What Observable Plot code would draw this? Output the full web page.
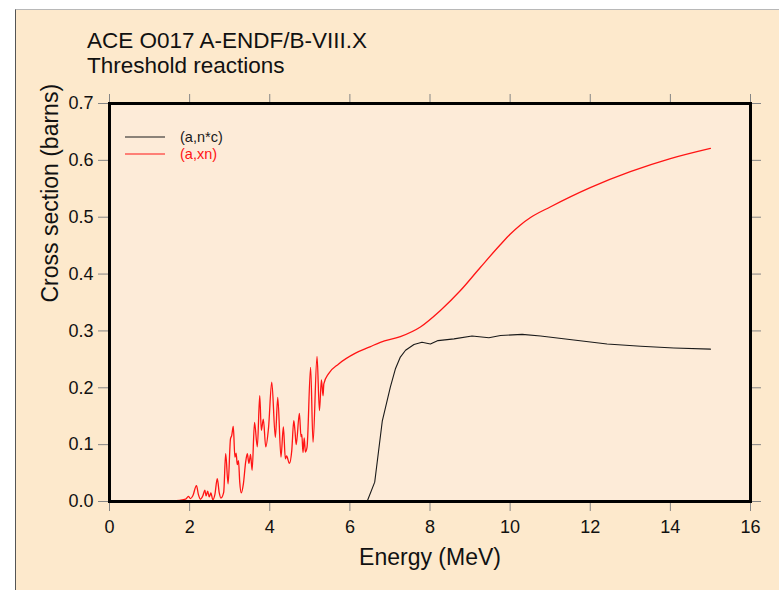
<!DOCTYPE html>
<html>
<head>
<meta charset="utf-8">
<script src="https://cdn.jsdelivr.net/npm/d3@7"></script>
<script src="https://cdn.jsdelivr.net/npm/@observablehq/plot@0.6"></script>
<style>
  body { margin:0; background:#ffffff; width:779px; height:590px; overflow:hidden; position:relative; font-family:"Liberation Sans", Arial, sans-serif; }
  #page { position:absolute; left:15px; top:9px; width:764px; height:581px; background:#fde9cc; border-left:1px solid #555; border-top:1px solid #b8b8b8; }
  #title, #subtitle { position:absolute; left:87px; white-space:nowrap; color:#111; line-height:23px; font-size:22.5px; }
  #title { top:29px; }
  #subtitle { top:54px; }
  #chart { position:absolute; left:0; top:80px; }
  #legend { position:absolute; left:125px; top:128px; font-size:14.5px; }
  .row { display:flex; align-items:center; height:17.5px; }
  .row svg { margin-right:15px; }
</style>
</head>
<body>
<div id="page"></div>
<div id="title">ACE O017 A-ENDF/B-VIII.X</div>
<div id="subtitle">Threshold reactions</div>
<div id="chart"></div>
<div id="legend"></div>
<script>
// ---- data ----
const xTicks = [0, 2, 4, 6, 8, 10, 12, 14, 16];
const yTicks = [0, 0.1, 0.2, 0.3, 0.4, 0.5, 0.6, 0.7];
const seriesNames = ["(a,n*c)", "(a,xn)"];
const seriesColors = ["#1a1a1a", "#ff1414"];

// (a,n*c)
const ncEnergy = [6.43, 6.62, 6.81, 7.01, 7.14, 7.26, 7.39, 7.6, 7.8, 8.01, 8.2, 8.6, 9.05, 9.47, 9.76, 10.3, 10.76, 11.59, 12.42, 13.26, 14.09, 15.0];
const ncSigma  = [0, 0.034, 0.142, 0.201, 0.234, 0.254, 0.266, 0.276, 0.280, 0.277, 0.283, 0.286, 0.291, 0.288, 0.292, 0.294, 0.291, 0.284, 0.277, 0.273, 0.270, 0.268];

// (a,xn)
const xnEnergy = [0.82, 1.2, 1.5, 1.75, 1.9, 1.97, 2.02, 2.08, 2.17, 2.22, 2.27, 2.33, 2.38, 2.41, 2.45, 2.49, 2.53, 2.58, 2.63, 2.69, 2.74, 2.78, 2.85, 2.90, 2.96, 3.02, 3.05, 3.09, 3.13, 3.16, 3.19, 3.22, 3.25, 3.29, 3.34, 3.40, 3.44, 3.48, 3.52, 3.56, 3.62, 3.69, 3.75, 3.79, 3.84, 3.90, 3.97, 4.05, 4.14, 4.20, 4.28, 4.34, 4.39, 4.42, 4.49, 4.55, 4.60, 4.63, 4.66, 4.74, 4.78, 4.80, 4.83, 4.86, 4.89, 4.93, 5.02, 5.08, 5.18, 5.24, 5.29, 5.33, 5.35, 5.47, 5.72, 6.14, 6.5, 6.76, 7.26, 7.76, 8.26, 8.76, 9.26, 9.76, 10.0, 10.25, 10.5, 11, 12, 13, 14, 15];
const xnSigma  = [0, 0.0003, 0.0008, 0.002, 0.004, 0.009, 0.005, 0.01, 0.028, 0.012, 0.004, 0.01, 0.02, 0.01, 0.018, 0.008, 0.015, 0.003, 0.012, 0.040, 0.015, 0.006, 0.016, 0.084, 0.031, 0.11, 0.116, 0.132, 0.078, 0.085, 0.065, 0.072, 0.035, 0.015, 0.03, 0.07, 0.084, 0.067, 0.083, 0.055, 0.139, 0.096, 0.186, 0.125, 0.145, 0.096, 0.13, 0.21, 0.113, 0.183, 0.078, 0.131, 0.075, 0.08, 0.067, 0.09, 0.142, 0.124, 0.10, 0.155, 0.114, 0.118, 0.086, 0.112, 0.087, 0.095, 0.236, 0.104, 0.255, 0.160, 0.214, 0.186, 0.207, 0.225, 0.242, 0.261, 0.272, 0.280, 0.290, 0.307, 0.336, 0.371, 0.412, 0.452, 0.470, 0.486, 0.499, 0.518, 0.552, 0.580, 0.603, 0.621];

const ncData = ncEnergy.map((E, i) => ({E, s: ncSigma[i]}));
const xnData = xnEnergy.map((E, i) => ({E, s: xnSigma[i]}));

const font = "'Liberation Sans', Arial, sans-serif";
const tickGray = "#858585";

const chart = Plot.plot({
  width: 779,
  height: 510,
  marginTop: 23,
  marginBottom: 89,
  marginLeft: 109,
  marginRight: 29,
  x: {domain: [0, 16]},
  y: {domain: [0, 0.7]},
  style: {background: "transparent", fontFamily: font, overflow: "visible", color: "#111"},
  marks: [
    Plot.frame({fill: "#fdebd8", stroke: "none"}),
    Plot.axisX({anchor: "bottom", ticks: xTicks, tickSize: 10, tickPadding: 9, fontSize: 18, label: null, stroke: tickGray, fill: "#111", tickFormat: d => String(d)}),
    Plot.axisX({anchor: "top", ticks: xTicks, tickSize: 10, label: null, stroke: tickGray, tickFormat: () => ""}),
    Plot.axisY({anchor: "left", ticks: yTicks, tickSize: 11, tickPadding: 5, fontSize: 18, label: null, stroke: tickGray, fill: "#111", tickFormat: d3.format(".1f")}),
    Plot.axisY({anchor: "right", ticks: yTicks, tickSize: 10, label: null, stroke: tickGray, tickFormat: () => ""}),
    Plot.line(xnData, {x: "E", y: "s", stroke: seriesColors[1], strokeWidth: 1.3, curve: "monotone-x"}),
    Plot.line(ncData, {x: "E", y: "s", stroke: seriesColors[0], strokeWidth: 1.1}),
    Plot.frame({stroke: "#000", strokeWidth: 3}),
    Plot.text(["Energy (MeV)"], {frameAnchor: "bottom", dy: 56, lineAnchor: "middle", fontSize: 23, fill: "#111"}),
    Plot.text(["Cross section (barns)"], {frameAnchor: "left", dx: -59, rotate: -90, lineAnchor: "middle", fontSize: 23, fill: "#111"})
  ]
});
document.getElementById("chart").appendChild(chart);

// legend
const legend = document.getElementById("legend");
seriesNames.forEach((name, i) => {
  const row = document.createElement("div");
  row.className = "row";
  row.innerHTML = `<svg width="40" height="6"><line x1="0" x2="40" y1="3" y2="3" stroke="${seriesColors[i]}" stroke-width="1.1"/></svg><span style="color:${seriesColors[i]}">${name}</span>`;
  legend.appendChild(row);
});
</script>
</body>
</html>
